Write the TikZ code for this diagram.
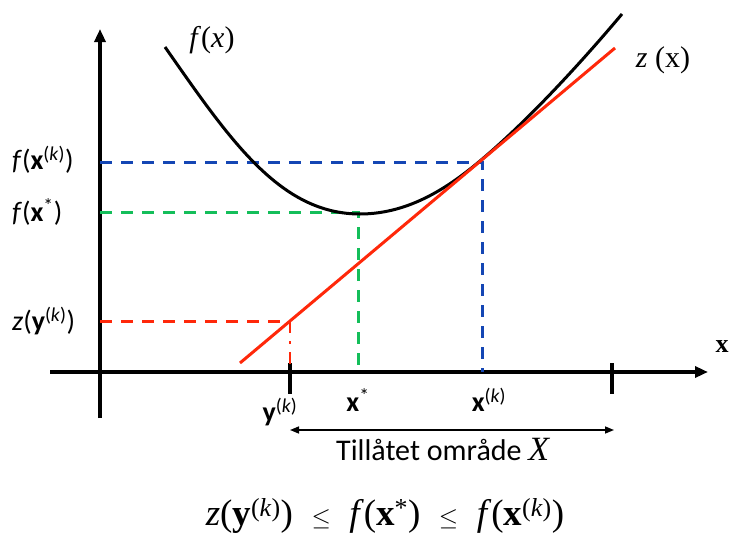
\documentclass[tikz,border=0pt]{standalone}
\usepackage{fontspec}
\setmainfont{Liberation Serif}
\newfontfamily\carlitofont{Carlito}
\usetikzlibrary{arrows.meta}
\tikzset{
  axis/.style={line width=3.5pt,-{Triangle[length=13pt,width=11pt]}},
  dashline/.style={line width=3pt,dash pattern=on 12pt off 9pt},
  lab/.style={font=\carlitofont\fontsize{28}{30}\selectfont,inner sep=0pt},
  serif/.style={font=\fontsize{30}{32}\selectfont,inner sep=0pt},
}
\newcommand{\supk}{\textsuperscript{(\textit{k})}}
\definecolor{dblue}{RGB}{20,70,180}
\definecolor{dgreen}{RGB}{20,190,90}
\definecolor{dred}{RGB}{255,40,10}
\begin{document}
\begin{tikzpicture}[x=1pt,y=-1pt]
\useasboundingbox (0,0) rectangle (729,536);
% axes
\coordinate (yb) at (100,418);
\coordinate (yt) at (100,29);
\coordinate (xl) at (50,372);
\coordinate (xr) at (708,372);
\draw[axis] (yb) -- (yt);
\draw[axis] (xl) -- (xr);
\node[font=\bfseries\fontsize{26}{28}\selectfont] (xlab) at (722,347) {x};
% ticks
\coordinate (t1a) at (290,363); \coordinate (t1b) at (290,394);
\coordinate (t2a) at (612,363); \coordinate (t2b) at (612,394);
\draw[line width=3.5pt] (t1a) -- (t1b);
\draw[line width=3.5pt] (t2a) -- (t2b);
% dashed guides
\coordinate (bA) at (100,162); \coordinate (bB) at (482,162); \coordinate (bC) at (482,372);
\coordinate (gA) at (100,212); \coordinate (gB) at (358,212); \coordinate (gC) at (358,372);
\coordinate (rA) at (100,321); \coordinate (rB) at (290,321); \coordinate (rC) at (290,370);
\draw[dashline,dblue] (bA) -- (bB) -- (bC);
\draw[dashline,dgreen] (gA) -- (gB) -- (gC);
\draw[dashline,dred] (rA) -- (rB);
\draw[dred,line width=2.5pt,dash pattern=on 12pt off 8pt on 3pt off 8pt] (rB) -- (rC);
% curve f(x)
\coordinate (c0) at (165,47);
\coordinate (c1) at (360,214);
\coordinate (c2) at (480,161);
\coordinate (c3) at (622,14);
\draw[line width=3pt] (c0) .. controls (230,140) and (280,214) .. (c1)
  .. controls (410,214) and (450,186) .. (c2)
  .. controls (530,119) and (585,58) .. (c3);
% tangent line z(x)
\coordinate (ls) at (240,363);
\coordinate (le) at (615,48);
\draw[dred,line width=3pt] (ls) -- (le);
% labels
\node[lab,anchor=west] (lfk) at (12,160) {\textit{f}(\textbf{x}\supk)};
\node[lab,anchor=west] (lfs) at (12,212) {\textit{f}(\textbf{x}\textsuperscript{*})};
\node[lab,anchor=west] (lzy) at (12,321) {\textit{z}(\textbf{y}\supk)};
\node[lab] (ly) at (280,412) {\textbf{y}\supk};
\node[lab] (lxs) at (358,400) {\textbf{x}\textsuperscript{*}};
\node[lab] (lxk) at (489,400) {\textbf{x}\supk};
\node[serif] (lf) at (212,40) {\textit{f}(\textit{x})};
\node[serif] (lz) at (663,60) {\textit{z} (x)};
% feasible region
\coordinate (fa) at (290,430);
\coordinate (fb) at (614,430);
\draw[line width=1.5pt,{Triangle[length=9pt,width=7pt]}-{Triangle[length=9pt,width=7pt]}] (fa) -- (fb);
\node[lab,anchor=base west,font=\carlitofont\fontsize{30}{32}\selectfont] (ltil) at (336,460) {Tillåtet område {\rmfamily\fontsize{34}{36}\selectfont\textit{X}}};
% formula
\node[font=\fontsize{37}{39}\selectfont,inner sep=0pt] (form) at (385,516) {\textit{z}(\textbf{y}\supk)\enspace$\leq$\enspace\textit{f}(\textbf{x}\textsuperscript{*})\enspace$\leq$\enspace\textit{f}(\textbf{x}\supk)};
\end{tikzpicture}
\end{document}
